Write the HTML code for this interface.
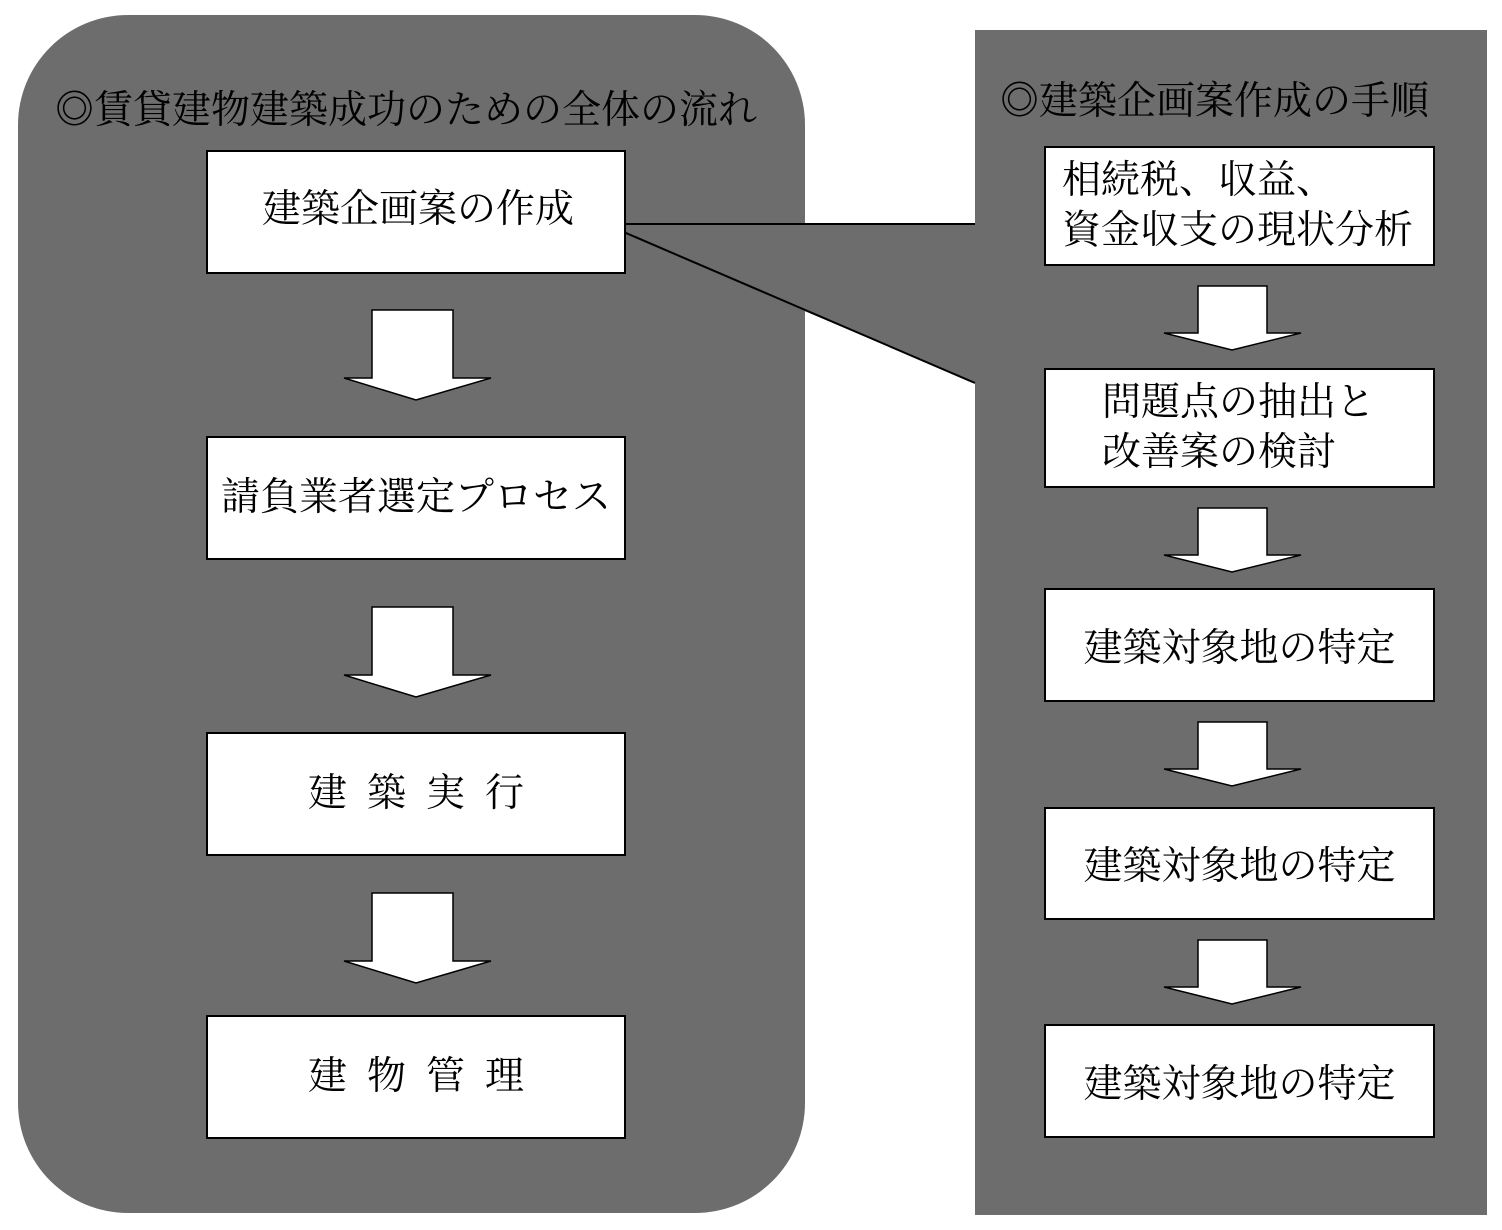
<!DOCTYPE html><html><head><meta charset="utf-8"><style>
body{margin:0;width:1502px;height:1230px;background:#fff;position:relative;overflow:hidden;font-family:"Liberation Serif","Noto Serif CJK SC","Noto Sans CJK JP",serif;}
.t{position:absolute;font-size:39px;color:#000;white-space:nowrap;}
.b{position:absolute;background:#fff;border:2px solid #000;box-sizing:border-box;display:flex;align-items:center;justify-content:center;font-size:39px;line-height:1.5;white-space:nowrap;}
</style></head><body>
<div style="position:absolute;left:18px;top:15px;width:787px;height:1198px;background:#6d6d6d;border-radius:110px;"></div>
<div style="position:absolute;left:975px;top:30px;width:512px;height:1185px;background:#6d6d6d;"></div>
<svg width="1502" height="1230" style="position:absolute;left:0;top:0">
<polygon points="598,224 975,224 975,383" fill="#6d6d6d"/>
<line x1="598" y1="224" x2="975" y2="224" stroke="#000" stroke-width="2"/>
<line x1="605" y1="224" x2="975" y2="383" stroke="#000" stroke-width="2"/>
<g fill="#fff" stroke="#000" stroke-width="1.5">
<polygon points="372,310 453,310 453,378 491,378 416,400 344,378 372,378"/>
<polygon points="372,607 453,607 453,675 491,675 416,697 344,675 372,675"/>
<polygon points="372,893 453,893 453,961 491,961 416,983 344,961 372,961"/>
<polygon points="1198,286 1267,286 1267,333 1301,333 1232,350 1164,333 1198,333"/>
<polygon points="1198,508 1267,508 1267,555 1301,555 1232,572 1164,555 1198,555"/>
<polygon points="1198,722 1267,722 1267,769 1301,769 1232,786 1164,769 1198,769"/>
<polygon points="1198,940 1267,940 1267,987 1301,987 1232,1004 1164,987 1198,987"/>
</g></svg>
<div class="t" style="left:55px;top:79px">◎賃貸建物建築成功のための全体の流れ</div>
<div class="t" style="left:1000px;top:70px">◎建築企画案作成の手順</div>
<div class="b" style="left:206px;top:150px;width:420px;height:124px;justify-content:flex-start;padding-left:54px;padding-bottom:4px">建築企画案の作成</div>
<div class="b" style="left:206px;top:436px;width:420px;height:124px">請負業者選定プロセス</div>
<div class="b" style="left:206px;top:732px;width:420px;height:124px;letter-spacing:20px;padding-left:20px">建築実行</div>
<div class="b" style="left:206px;top:1015px;width:420px;height:124px;letter-spacing:20px;padding-left:20px">建物管理</div>
<div class="b" style="left:1044px;top:146px;width:391px;height:120px;justify-content:flex-start;padding-left:16px;line-height:50px">相続税、収益、<br>資金収支の現状分析</div>
<div class="b" style="left:1044px;top:368px;width:391px;height:120px;justify-content:flex-start;padding-left:56px;line-height:50px">問題点の抽出と<br>改善案の検討</div>
<div class="b" style="left:1044px;top:588px;width:391px;height:114px;padding-top:8px">建築対象地の特定</div>
<div class="b" style="left:1044px;top:807px;width:391px;height:113px;padding-top:8px">建築対象地の特定</div>
<div class="b" style="left:1044px;top:1024px;width:391px;height:114px;padding-top:8px">建築対象地の特定</div>
</body></html>
